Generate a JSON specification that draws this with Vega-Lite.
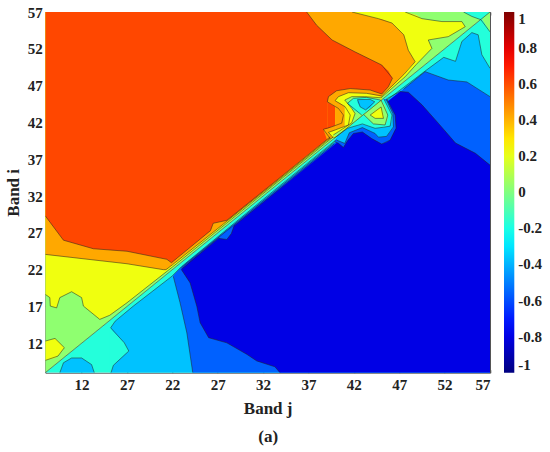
{"$schema":"https://vega.github.io/schema/vega-lite/v6.json","width":444.7,"height":360.7,"autosize":{"type":"none"},"padding":{"left":45.3,"top":12,"right":60,"bottom":79.3},"background":"white",
"config":{"view":{"stroke":null}},
"layer":[
{"data":{"values":[
{"id":"l1","v":-0.18,"x":8,"lo":8,"hi":8},{"id":"l1","v":-0.18,"x":57,"lo":8,"hi":57},
{"id":"l2","v":-0.37,"x":9.6,"lo":8,"hi":8},{"id":"l2","v":-0.37,"x":10,"lo":8,"hi":9.35},{"id":"l2","v":-0.37,"x":10.9,"lo":8,"hi":10},{"id":"l2","v":-0.37,"x":12,"lo":8,"hi":10},{"id":"l2","v":-0.37,"x":13.1,"lo":8,"hi":9.1},{"id":"l2","v":-0.37,"x":13.4,"lo":8,"hi":8},
{"id":"l3","v":-0.37,"x":15.2,"lo":8,"hi":14.1},{"id":"l3","v":-0.37,"x":15.7,"lo":8,"hi":15},{"id":"l3","v":-0.37,"x":17.7,"lo":8,"hi":17.05},{"id":"l3","v":-0.37,"x":21.95,"lo":8,"hi":21.1},{"id":"l3","v":-0.37,"x":23,"lo":8,"hi":22.4},{"id":"l3","v":-0.37,"x":33,"lo":8,"hi":32.55},{"id":"l3","v":-0.37,"x":45,"lo":8,"hi":44.4},{"id":"l3","v":-0.37,"x":49.85,"lo":8,"hi":48.98},{"id":"l3","v":-0.37,"x":51.9,"lo":8,"hi":50.84},{"id":"l3","v":-0.37,"x":53.2,"lo":8,"hi":50.3},{"id":"l3","v":-0.37,"x":53.9,"lo":8,"hi":53},{"id":"l3","v":-0.37,"x":55,"lo":8,"hi":54.2},{"id":"l3","v":-0.37,"x":55.7,"lo":8,"hi":53.9},{"id":"l3","v":-0.37,"x":56.1,"lo":8,"hi":51.2},{"id":"l3","v":-0.37,"x":57,"lo":8,"hi":49.35},
{"id":"l4","v":-0.18,"x":15.1,"lo":8,"hi":14.2},{"id":"l4","v":-0.18,"x":15.24,"lo":8,"hi":14},{"id":"l4","v":-0.18,"x":15.5,"lo":9,"hi":13.6},{"id":"l4","v":-0.18,"x":16.7,"lo":10.4,"hi":12.07},{"id":"l4","v":-0.18,"x":17.2,"lo":10.94,"hi":10.94},
{"id":"l5","v":-0.56,"x":22.1,"lo":21.1,"hi":21.2},{"id":"l5","v":-0.56,"x":22.85,"lo":17.5,"hi":22.2},{"id":"l5","v":-0.56,"x":23.6,"lo":13.4,"hi":23},{"id":"l5","v":-0.56,"x":24.25,"lo":8,"hi":23.65},{"id":"l5","v":-0.56,"x":33,"lo":8,"hi":32.35},{"id":"l5","v":-0.56,"x":45,"lo":8,"hi":44.3},{"id":"l5","v":-0.56,"x":47.46,"lo":8,"hi":46.5},{"id":"l5","v":-0.56,"x":49.85,"lo":8,"hi":48.9},{"id":"l5","v":-0.56,"x":52.4,"lo":8,"hi":47.76},{"id":"l5","v":-0.56,"x":54.45,"lo":8,"hi":47.5},{"id":"l5","v":-0.56,"x":57,"lo":8,"hi":45.5},
{"id":"l6","v":-0.8,"x":23,"lo":22,"hi":22.05},{"id":"l6","v":-0.8,"x":23.96,"lo":20.2,"hi":23.1},{"id":"l6","v":-0.8,"x":24.7,"lo":17,"hi":23.85},{"id":"l6","v":-0.8,"x":25.06,"lo":14.8,"hi":24.2},{"id":"l6","v":-0.8,"x":26,"lo":12.75,"hi":25.15},{"id":"l6","v":-0.8,"x":28,"lo":12.06,"hi":27.15},{"id":"l6","v":-0.8,"x":30.2,"lo":10.5,"hi":29.35},{"id":"l6","v":-0.8,"x":31.3,"lo":9.6,"hi":30.45},{"id":"l6","v":-0.8,"x":33.3,"lo":8.8,"hi":32.45},{"id":"l6","v":-0.8,"x":33.86,"lo":8,"hi":33},{"id":"l6","v":-0.8,"x":47.1,"lo":8,"hi":46.2},{"id":"l6","v":-0.8,"x":48,"lo":8,"hi":46.1},{"id":"l6","v":-0.8,"x":49.5,"lo":8,"hi":44.4},{"id":"l6","v":-0.8,"x":51.3,"lo":8,"hi":41.9},{"id":"l6","v":-0.8,"x":53.2,"lo":8,"hi":39.2},{"id":"l6","v":-0.8,"x":55.4,"lo":8,"hi":37.8},{"id":"l6","v":-0.8,"x":57,"lo":8,"hi":36.2},
{"id":"l7","v":-0.56,"x":27.07,"lo":26.25,"hi":26.25},{"id":"l7","v":-0.56,"x":28,"lo":26.1,"hi":27.2},{"id":"l7","v":-0.56,"x":28.5,"lo":26.9,"hi":27.7},{"id":"l7","v":-0.56,"x":28.8,"lo":27.95,"hi":27.95},
{"id":"u1","v":0.03,"x":8,"lo":8,"hi":57},{"id":"u1","v":0.03,"x":57,"lo":57,"hi":57},
{"id":"u1b","v":0.22,"x":8,"lo":9.67,"hi":12.3},{"id":"u1b","v":0.22,"x":9.07,"lo":10,"hi":12.66},{"id":"u1b","v":0.22,"x":9.4,"lo":10.26,"hi":12.3},{"id":"u1b","v":0.22,"x":10.1,"lo":11.4,"hi":11.4},
{"id":"u2","v":0.22,"x":8,"lo":18.64,"hi":57},{"id":"u2","v":0.22,"x":8.5,"lo":18.2,"hi":57},{"id":"u2","v":0.22,"x":8.55,"lo":17.05,"hi":57},{"id":"u2","v":0.22,"x":9.25,"lo":16.8,"hi":57},{"id":"u2","v":0.22,"x":9.6,"lo":18.2,"hi":57},{"id":"u2","v":0.22,"x":10.9,"lo":19,"hi":57},{"id":"u2","v":0.22,"x":12,"lo":18.2,"hi":57},{"id":"u2","v":0.22,"x":12.2,"lo":17.05,"hi":57},{"id":"u2","v":0.22,"x":14,"lo":15.24,"hi":57},{"id":"u2","v":0.22,"x":15.1,"lo":15.8,"hi":57},{"id":"u2","v":0.22,"x":17,"lo":17.5,"hi":57},{"id":"u2","v":0.22,"x":22,"lo":22.35,"hi":57},{"id":"u2","v":0.22,"x":45,"lo":45.35,"hi":57},{"id":"u2","v":0.22,"x":47.65,"lo":48.2,"hi":57},{"id":"u2","v":0.22,"x":48.9,"lo":49.9,"hi":56.6},{"id":"u2","v":0.22,"x":49.5,"lo":50.7,"hi":56.1},{"id":"u2","v":0.22,"x":50.2,"lo":51.57,"hi":55.9},{"id":"u2","v":0.22,"x":50.6,"lo":52.06,"hi":55.8},
{"id":"u3","v":0.22,"x":50.2,"lo":53.2,"hi":55.9},{"id":"u3","v":0.22,"x":51.7,"lo":53.5,"hi":55.7},{"id":"u3","v":0.22,"x":52.4,"lo":53.65,"hi":55.7},{"id":"u3","v":0.22,"x":53.9,"lo":54.73,"hi":55.7},{"id":"u3","v":0.22,"x":54.27,"lo":55,"hi":55},
{"id":"u3b","v":0.03,"x":50.2,"lo":53.2,"hi":53.2},{"id":"u3b","v":0.03,"x":50.6,"lo":52.06,"hi":53.28},
{"id":"u4","v":0.42,"x":8,"lo":24.07,"hi":57},{"id":"u4","v":0.42,"x":17,"lo":22.8,"hi":57},{"id":"u4","v":0.42,"x":21,"lo":22,"hi":57},{"id":"u4","v":0.42,"x":21.3,"lo":22,"hi":57},{"id":"u4","v":0.42,"x":22,"lo":22.65,"hi":57},{"id":"u4","v":0.42,"x":33,"lo":33.5,"hi":57},{"id":"u4","v":0.42,"x":41.8,"lo":42.35,"hi":57},{"id":"u4","v":0.42,"x":44.7,"lo":45.25,"hi":56.1},{"id":"u4","v":0.42,"x":45.07,"lo":45.6,"hi":56},{"id":"u4","v":0.42,"x":46.2,"lo":46.9,"hi":55.5},{"id":"u4","v":0.42,"x":47.5,"lo":48.5,"hi":53.9},{"id":"u4","v":0.42,"x":48,"lo":49.3,"hi":51.8},{"id":"u4","v":0.42,"x":48.75,"lo":50.25,"hi":50.25},
{"id":"u5","v":0.61,"x":8,"lo":29.3,"hi":57},{"id":"u5","v":0.61,"x":10,"lo":26,"hi":57},{"id":"u5","v":0.61,"x":13.3,"lo":24.84,"hi":57},{"id":"u5","v":0.61,"x":17,"lo":24.5,"hi":57},{"id":"u5","v":0.61,"x":21.4,"lo":23.4,"hi":57},{"id":"u5","v":0.61,"x":21.9,"lo":22.94,"hi":57},{"id":"u5","v":0.61,"x":26.2,"lo":27.3,"hi":57},{"id":"u5","v":0.61,"x":26.5,"lo":28.3,"hi":57},{"id":"u5","v":0.61,"x":27.25,"lo":28.5,"hi":57},{"id":"u5","v":0.61,"x":28,"lo":28.7,"hi":57},{"id":"u5","v":0.61,"x":33.15,"lo":33.8,"hi":57},{"id":"u5","v":0.61,"x":36.8,"lo":37.5,"hi":57},{"id":"u5","v":0.61,"x":37.9,"lo":38.6,"hi":55.2},{"id":"u5","v":0.61,"x":39.6,"lo":40.25,"hi":53.2},{"id":"u5","v":0.61,"x":42.1,"lo":42.8,"hi":51.6},{"id":"u5","v":0.61,"x":45.07,"lo":45.86,"hi":49.8},{"id":"u5","v":0.61,"x":45.8,"lo":46.85,"hi":49},{"id":"u5","v":0.61,"x":46.25,"lo":48,"hi":48},
{"id":"u6","v":-0.18,"x":54.08,"lo":57,"hi":57},{"id":"u6","v":-0.18,"x":55,"lo":56.4,"hi":57},{"id":"u6","v":-0.18,"x":56,"lo":55.95,"hi":57},{"id":"u6","v":-0.18,"x":57,"lo":57,"hi":57},
{"id":"l8","v":0.03,"x":56.1,"lo":56.05,"hi":56.05},{"id":"l8","v":0.03,"x":57,"lo":54.3,"hi":57},
{"id":"i0","v":-0.56,"x":39.85,"lo":39.4,"hi":39.4},{"id":"i0","v":-0.56,"x":40.3,"lo":39.16,"hi":40.2},{"id":"i0","v":-0.56,"x":40.85,"lo":38.6,"hi":40.7},{"id":"i0","v":-0.56,"x":41.3,"lo":39.5,"hi":41.2},{"id":"i0","v":-0.56,"x":41.95,"lo":40.5,"hi":41.9},{"id":"i0","v":-0.56,"x":42.94,"lo":40.7,"hi":42.9},{"id":"i0","v":-0.56,"x":43.97,"lo":39.8,"hi":43.97},{"id":"i0","v":-0.56,"x":45.07,"lo":39.06,"hi":45},{"id":"i0","v":-0.56,"x":45.6,"lo":39.3,"hi":45.2},{"id":"i0","v":-0.56,"x":46,"lo":39.6,"hi":44.3},{"id":"i0","v":-0.56,"x":46.55,"lo":41,"hi":43},{"id":"i0","v":-0.56,"x":46.65,"lo":41.2,"hi":41.2},
{"id":"i1","v":-0.37,"x":40.1,"lo":39.6,"hi":40.1},{"id":"i1","v":-0.37,"x":41,"lo":39.15,"hi":41},{"id":"i1","v":-0.37,"x":41.5,"lo":40.6,"hi":41.5},{"id":"i1","v":-0.37,"x":42.94,"lo":41.3,"hi":42.94},{"id":"i1","v":-0.37,"x":44.34,"lo":40.5,"hi":44.34},{"id":"i1","v":-0.37,"x":44.7,"lo":40,"hi":44.7},{"id":"i1","v":-0.37,"x":45.6,"lo":40.1,"hi":45},{"id":"i1","v":-0.37,"x":46.3,"lo":41.2,"hi":43.2},{"id":"i1","v":-0.37,"x":46.36,"lo":41.4,"hi":41.4},
{"id":"i2","v":-0.18,"x":39.8,"lo":39.8,"hi":39.9},{"id":"i2","v":-0.18,"x":41.3,"lo":41.2,"hi":41.4},{"id":"i2","v":-0.18,"x":42.94,"lo":41.8,"hi":42.94},{"id":"i2","v":-0.18,"x":44.34,"lo":41.2,"hi":44.34},{"id":"i2","v":-0.18,"x":45.3,"lo":41.35,"hi":45.2},{"id":"i2","v":-0.18,"x":46,"lo":41.5,"hi":43.6},{"id":"i2","v":-0.18,"x":46.2,"lo":42.5,"hi":43},
{"id":"i3","v":0.03,"x":43.1,"lo":43,"hi":43.1},{"id":"i3","v":0.03,"x":44.15,"lo":41.8,"hi":44.2},{"id":"i3","v":0.03,"x":45,"lo":41.7,"hi":45},{"id":"i3","v":0.03,"x":45.44,"lo":41.65,"hi":44.3},{"id":"i3","v":0.03,"x":45.74,"lo":42.5,"hi":43},
{"id":"i4","v":0.22,"x":43.8,"lo":43,"hi":43},{"id":"i4","v":0.22,"x":44.34,"lo":42.55,"hi":43.6},{"id":"i4","v":0.22,"x":45,"lo":42.55,"hi":44.1},{"id":"i4","v":0.22,"x":45.26,"lo":42.55,"hi":43},
{"id":"j1","v":0.42,"x":38.64,"lo":41.06,"hi":41.06},{"id":"j1","v":0.42,"x":39.08,"lo":39.5,"hi":41.14},{"id":"j1","v":0.42,"x":39.09,"lo":39.5,"hi":44.8},{"id":"j1","v":0.42,"x":39.2,"lo":39.6,"hi":45.5},{"id":"j1","v":0.42,"x":40.1,"lo":40.2,"hi":46.3},{"id":"j1","v":0.42,"x":41.6,"lo":41.6,"hi":46.6},{"id":"j1","v":0.42,"x":43.8,"lo":43.8,"hi":46.4},{"id":"j1","v":0.42,"x":45.07,"lo":45,"hi":45.86},
{"id":"j2","v":0.61,"x":39.08,"lo":41.14,"hi":44.8},{"id":"j2","v":0.61,"x":39.56,"lo":41.4,"hi":44.4},{"id":"j2","v":0.61,"x":40.3,"lo":41.75,"hi":43.9},{"id":"j2","v":0.61,"x":40.66,"lo":41.9,"hi":43.3},{"id":"j2","v":0.61,"x":40.85,"lo":43,"hi":43},
{"id":"j3","v":0.22,"x":39.2,"lo":40.65,"hi":40.65},{"id":"j3","v":0.22,"x":39.74,"lo":39.9,"hi":40.85},{"id":"j3","v":0.22,"x":39.93,"lo":40,"hi":40.97},{"id":"j3","v":0.22,"x":39.94,"lo":40,"hi":44.95},{"id":"j3","v":0.22,"x":40.3,"lo":40.3,"hi":45.5},{"id":"j3","v":0.22,"x":41.4,"lo":41.4,"hi":46.04},{"id":"j3","v":0.22,"x":43.4,"lo":43.4,"hi":45.95},{"id":"j3","v":0.22,"x":45.07,"lo":45,"hi":45.5},
{"id":"j4","v":0.42,"x":39.93,"lo":40.97,"hi":44.95},{"id":"j4","v":0.42,"x":40.5,"lo":41.25,"hi":44.6},{"id":"j4","v":0.42,"x":41.03,"lo":41.5,"hi":44.14},{"id":"j4","v":0.42,"x":41.4,"lo":41.65,"hi":43.5},{"id":"j4","v":0.42,"x":41.6,"lo":43,"hi":43},
{"id":"j5","v":0.03,"x":39.74,"lo":40.1,"hi":40.3},{"id":"j5","v":0.03,"x":40.3,"lo":40.3,"hi":40.74},{"id":"j5","v":0.03,"x":41,"lo":41,"hi":41.05},{"id":"j5","v":0.03,"x":41.01,"lo":41,"hi":45.04},{"id":"j5","v":0.03,"x":41.77,"lo":41.77,"hi":45.5},{"id":"j5","v":0.03,"x":43.2,"lo":43.2,"hi":45.5},{"id":"j5","v":0.03,"x":44.9,"lo":44.9,"hi":45.27},
{"id":"j6","v":0.22,"x":41,"lo":41.05,"hi":45.04},{"id":"j6","v":0.22,"x":41.5,"lo":41.4,"hi":44.3},{"id":"j6","v":0.22,"x":41.77,"lo":41.95,"hi":43.9},{"id":"j6","v":0.22,"x":42.13,"lo":43.2,"hi":43.2},
{"id":"j7","v":-0.18,"x":41.3,"lo":44.6,"hi":44.6},{"id":"j7","v":-0.18,"x":41.95,"lo":43.7,"hi":45.27},{"id":"j7","v":-0.18,"x":42.87,"lo":43,"hi":45.4},{"id":"j7","v":-0.18,"x":43.4,"lo":43.4,"hi":45.4},{"id":"j7","v":-0.18,"x":44.7,"lo":44.7,"hi":45.1},{"id":"j7","v":-0.18,"x":45,"lo":45,"hi":45},
{"id":"j8","v":-0.37,"x":42.4,"lo":44.7,"hi":45.1},{"id":"j8","v":-0.37,"x":42.7,"lo":44.1,"hi":45.1},{"id":"j8","v":-0.37,"x":43.3,"lo":43.7,"hi":45.13},{"id":"j8","v":-0.37,"x":43.8,"lo":44,"hi":45.13},{"id":"j8","v":-0.37,"x":44.3,"lo":44.8,"hi":44.8}
]},
"mark":{"type":"area","interpolate":"linear","clip":true},
"encoding":{
"x":{"field":"x","type":"quantitative","scale":{"domain":[8,57],"nice":false},"title":["Band j","(a)"],"axis":{"values":[12,17,22,27,32,37,42,47,52,57],"labelExpr":"datum.value==17?'27':''+datum.value","grid":false,"domainColor":"#555","tickColor":"#555","tickSize":-3,"labelFont":"Liberation Serif","labelFontSize":15,"labelFontWeight":"bold","labelColor":"#222","labelPadding":8,"titleFont":"Liberation Serif","titleFontSize":17,"titleFontWeight":"bold","titleColor":"#222","titleY":28,"titleLineHeight":28}},
"y":{"field":"hi","type":"quantitative","scale":{"domain":[8,57],"nice":false},"title":"Band i","axis":{"values":[12,17,22,27,32,37,42,47,52,57],"grid":false,"domainColor":"#555","tickColor":"#555","tickSize":-3,"labelFont":"Liberation Serif","labelFontSize":15,"labelFontWeight":"bold","labelColor":"#222","labelPadding":6,"titleFont":"Liberation Serif","titleFontSize":17,"titleFontWeight":"bold","titleColor":"#222","titleX":-23}},
"y2":{"field":"lo"},
"detail":{"field":"id"},
"color":{"field":"v","type":"quantitative","scale":{"domain":[-1,-0.75,-0.25,0.25,0.75,1],"range":["#00007f","#0000ff","#00ffff","#ffff00","#ff0000","#7f0000"],"interpolate":"rgb"},
"legend":{"title":null,"orient":"none","legendX":458.7,"legendY":0,"type":"gradient","gradientLength":360.7,"gradientThickness":10.3,"values":[-1,-0.8,-0.6,-0.4,-0.2,0,0.2,0.4,0.6,0.8,1],"labelExpr":"''+datum.value","labelOverlap":false,"labelFont":"Liberation Serif","labelFontSize":15,"labelFontWeight":"bold","labelColor":"#222","labelOffset":4}}
}},
{"data":{"values":[
{"c":"a","o":1,"x":8,"y":29.3},{"c":"a","o":2,"x":10,"y":26},{"c":"a","o":3,"x":13.3,"y":24.84},{"c":"a","o":4,"x":17,"y":24.5},{"c":"a","o":5,"x":21.4,"y":23.4},{"c":"a","o":6,"x":21.9,"y":22.94},{"c":"a","o":7,"x":26.2,"y":27.3},{"c":"a","o":8,"x":26.5,"y":28.3},{"c":"a","o":9,"x":27.25,"y":28.5},{"c":"a","o":10,"x":28,"y":28.7},{"c":"a","o":11,"x":33.15,"y":33.8},{"c":"a","o":12,"x":39.4,"y":40.05},
{"c":"b","o":1,"x":36.8,"y":57},{"c":"b","o":2,"x":37.9,"y":55.2},{"c":"b","o":3,"x":39.6,"y":53.2},{"c":"b","o":4,"x":42.1,"y":51.6},{"c":"b","o":5,"x":45.07,"y":49.8},{"c":"b","o":6,"x":46.25,"y":48},{"c":"b","o":7,"x":45.8,"y":46.85},{"c":"b","o":8,"x":45.07,"y":45.86},{"c":"b","o":9,"x":43.8,"y":46.4},{"c":"b","o":10,"x":41.6,"y":46.6},{"c":"b","o":11,"x":40.1,"y":46.3},{"c":"b","o":12,"x":39.2,"y":45.5},{"c":"b","o":13,"x":39.08,"y":44.8},{"c":"b","o":14,"x":40.3,"y":43.9},{"c":"b","o":15,"x":40.85,"y":43},{"c":"b","o":16,"x":40.66,"y":41.9},{"c":"b","o":17,"x":39.56,"y":41.4},{"c":"b","o":18,"x":38.64,"y":41.06},{"c":"b","o":19,"x":39.4,"y":39.8},
{"c":"c","o":1,"x":8,"y":24.07},{"c":"c","o":2,"x":17,"y":22.8},{"c":"c","o":3,"x":21,"y":22},{"c":"c","o":4,"x":21.3,"y":22},{"c":"c","o":5,"x":22,"y":22.65},{"c":"c","o":6,"x":33,"y":33.5},{"c":"c","o":7,"x":39.4,"y":39.9},
{"c":"d","o":1,"x":41.8,"y":57},{"c":"d","o":2,"x":44.7,"y":56.1},{"c":"d","o":3,"x":46.2,"y":55.5},{"c":"d","o":4,"x":47.5,"y":53.9},{"c":"d","o":5,"x":48,"y":51.8},{"c":"d","o":6,"x":48.75,"y":50.25},{"c":"d","o":7,"x":47.5,"y":48.5},{"c":"d","o":8,"x":45.07,"y":45.6},{"c":"d","o":9,"x":43.4,"y":45.95},{"c":"d","o":10,"x":41.4,"y":46.04},{"c":"d","o":11,"x":40.3,"y":45.5},{"c":"d","o":12,"x":39.93,"y":44.95},{"c":"d","o":13,"x":41.03,"y":44.14},{"c":"d","o":14,"x":41.6,"y":43},{"c":"d","o":15,"x":41.4,"y":41.65},{"c":"d","o":16,"x":39.93,"y":40.97},{"c":"d","o":17,"x":39.2,"y":40.65},{"c":"d","o":18,"x":39.74,"y":39.9},
{"c":"e","o":1,"x":8,"y":18.64},{"c":"e","o":2,"x":8.5,"y":18.2},{"c":"e","o":3,"x":8.55,"y":17.05},{"c":"e","o":4,"x":9.25,"y":16.8},{"c":"e","o":5,"x":9.6,"y":18.2},{"c":"e","o":6,"x":10.9,"y":19},{"c":"e","o":7,"x":12,"y":18.2},{"c":"e","o":8,"x":12.2,"y":17.05},{"c":"e","o":9,"x":14,"y":15.24},{"c":"e","o":10,"x":15.1,"y":15.8},{"c":"e","o":11,"x":17,"y":17.5},{"c":"e","o":12,"x":22,"y":22.35},{"c":"e","o":13,"x":39.74,"y":40.05},
{"c":"f","o":1,"x":47.65,"y":57},{"c":"f","o":2,"x":49.5,"y":56.1},{"c":"f","o":3,"x":51.7,"y":55.7},{"c":"f","o":4,"x":53.9,"y":55.7},{"c":"f","o":5,"x":54.27,"y":55},{"c":"f","o":6,"x":52.4,"y":53.65},{"c":"f","o":7,"x":50.2,"y":53.2},{"c":"f","o":8,"x":50.6,"y":52.06},{"c":"f","o":9,"x":48.9,"y":49.9},{"c":"f","o":10,"x":47.65,"y":48.2},{"c":"f","o":11,"x":45,"y":45.35},{"c":"f","o":12,"x":43.2,"y":45.5},{"c":"f","o":13,"x":41.77,"y":45.5},{"c":"f","o":14,"x":41,"y":45.04},{"c":"f","o":15,"x":41.77,"y":43.9},{"c":"f","o":16,"x":42.13,"y":43.2},{"c":"f","o":17,"x":41.77,"y":41.95},{"c":"f","o":18,"x":40.3,"y":40.74},{"c":"f","o":19,"x":39.74,"y":40.3},
{"c":"g","o":1,"x":8,"y":12.3},{"c":"g","o":2,"x":9.07,"y":12.66},{"c":"g","o":3,"x":10.1,"y":11.4},{"c":"g","o":4,"x":9.4,"y":10.26},{"c":"g","o":5,"x":8,"y":9.67},
{"c":"h","o":1,"x":8,"y":8},{"c":"h","o":2,"x":57,"y":57},
{"c":"h2","o":1,"x":42.87,"y":43},{"c":"h2","o":2,"x":41.3,"y":44.6},{"c":"h2","o":3,"x":41.95,"y":45.27},{"c":"h2","o":4,"x":43.4,"y":45.4},{"c":"h2","o":5,"x":44.7,"y":45.1},{"c":"h2","o":6,"x":45,"y":45},
{"c":"h3","o":1,"x":42.4,"y":45.1},{"c":"h3","o":2,"x":42.7,"y":44.1},{"c":"h3","o":3,"x":43.3,"y":43.7},{"c":"h3","o":4,"x":44.3,"y":44.8},{"c":"h3","o":5,"x":43.8,"y":45.13},{"c":"h3","o":6,"x":42.4,"y":45.1},
{"c":"i","o":1,"x":9.6,"y":8},{"c":"i","o":2,"x":10,"y":9.35},{"c":"i","o":3,"x":10.9,"y":10},{"c":"i","o":4,"x":12,"y":10},{"c":"i","o":5,"x":13.1,"y":9.1},{"c":"i","o":6,"x":13.4,"y":8},
{"c":"j","o":1,"x":15.24,"y":8},{"c":"j","o":2,"x":15.5,"y":9},{"c":"j","o":3,"x":17.2,"y":10.94},{"c":"j","o":4,"x":16.7,"y":12.07},{"c":"j","o":5,"x":15.2,"y":14.1},{"c":"j","o":6,"x":15.7,"y":15},{"c":"j","o":7,"x":17.7,"y":17.05},{"c":"j","o":8,"x":21.95,"y":21.1},{"c":"j","o":9,"x":23,"y":22.4},{"c":"j","o":10,"x":33,"y":32.55},{"c":"j","o":11,"x":40,"y":39.6},
{"c":"k","o":1,"x":22.1,"y":21.1},{"c":"k","o":2,"x":22.85,"y":17.5},{"c":"k","o":3,"x":23.6,"y":13.4},{"c":"k","o":4,"x":24.25,"y":8},
{"c":"l","o":1,"x":23,"y":22},{"c":"l","o":2,"x":23.96,"y":20.2},{"c":"l","o":3,"x":24.7,"y":17},{"c":"l","o":4,"x":25.06,"y":14.8},{"c":"l","o":5,"x":26,"y":12.75},{"c":"l","o":6,"x":28,"y":12.06},{"c":"l","o":7,"x":30.2,"y":10.5},{"c":"l","o":8,"x":31.3,"y":9.6},{"c":"l","o":9,"x":33.3,"y":8.8},{"c":"l","o":10,"x":33.86,"y":8},
{"c":"m","o":1,"x":23,"y":22.25},{"c":"m","o":2,"x":33,"y":32.35},{"c":"m","o":3,"x":39.85,"y":39.3},
{"c":"m2","o":1,"x":23,"y":22.05},{"c":"m2","o":2,"x":27.07,"y":26.25},{"c":"m2","o":3,"x":28,"y":26.1},{"c":"m2","o":4,"x":28.5,"y":26.9},{"c":"m2","o":5,"x":28.8,"y":27.95},{"c":"m2","o":6,"x":33.3,"y":32.45},{"c":"m2","o":7,"x":39.85,"y":39.1},
{"c":"n","o":1,"x":45.6,"y":45},{"c":"n","o":2,"x":49.85,"y":48.98},{"c":"n","o":3,"x":51.9,"y":50.84},{"c":"n","o":4,"x":53.2,"y":50.3},{"c":"n","o":5,"x":53.9,"y":53},{"c":"n","o":6,"x":55,"y":54.2},{"c":"n","o":7,"x":55.7,"y":53.9},{"c":"n","o":8,"x":56.1,"y":51.2},{"c":"n","o":9,"x":57,"y":49.35},
{"c":"p","o":1,"x":47.46,"y":46.5},{"c":"p","o":2,"x":49.85,"y":48.9},{"c":"p","o":3,"x":52.4,"y":47.76},{"c":"p","o":4,"x":54.45,"y":47.5},{"c":"p","o":5,"x":57,"y":45.5},
{"c":"q","o":1,"x":45.6,"y":45.2},{"c":"q","o":2,"x":47.1,"y":46.2},{"c":"q","o":3,"x":48,"y":46.1},{"c":"q","o":4,"x":49.5,"y":44.4},{"c":"q","o":5,"x":51.3,"y":41.9},{"c":"q","o":6,"x":53.2,"y":39.2},{"c":"q","o":7,"x":55.4,"y":37.8},{"c":"q","o":8,"x":57,"y":36.2},
{"c":"r","o":1,"x":39.85,"y":39.4},{"c":"r","o":2,"x":40.3,"y":39.16},{"c":"r","o":3,"x":40.85,"y":38.6},{"c":"r","o":4,"x":41.3,"y":39.5},{"c":"r","o":5,"x":41.95,"y":40.5},{"c":"r","o":6,"x":42.94,"y":40.7},{"c":"r","o":7,"x":43.97,"y":39.8},{"c":"r","o":8,"x":45.07,"y":39.06},{"c":"r","o":9,"x":46,"y":39.6},{"c":"r","o":10,"x":46.65,"y":41.2},{"c":"r","o":11,"x":46.55,"y":43},{"c":"r","o":12,"x":45.6,"y":45.2},
{"c":"s","o":1,"x":40.1,"y":39.6},{"c":"s","o":2,"x":41,"y":39.15},{"c":"s","o":3,"x":41.5,"y":40.6},{"c":"s","o":4,"x":42.94,"y":41.3},{"c":"s","o":5,"x":44.34,"y":40.5},{"c":"s","o":6,"x":44.7,"y":40},{"c":"s","o":7,"x":45.6,"y":40.1},{"c":"s","o":8,"x":46.36,"y":41.4},{"c":"s","o":9,"x":46.3,"y":43.2},{"c":"s","o":10,"x":45.6,"y":45},
{"c":"t","o":1,"x":39.8,"y":39.85},{"c":"t","o":2,"x":41.3,"y":41.2},{"c":"t","o":3,"x":42.94,"y":41.8},{"c":"t","o":4,"x":44.34,"y":41.2},{"c":"t","o":5,"x":45.3,"y":41.35},{"c":"t","o":6,"x":46,"y":41.5},{"c":"t","o":7,"x":46.2,"y":43},{"c":"t","o":8,"x":45.3,"y":45.2},
{"c":"u","o":1,"x":43.1,"y":43.05},{"c":"u","o":2,"x":44.15,"y":41.8},{"c":"u","o":3,"x":45.44,"y":41.65},{"c":"u","o":4,"x":45.74,"y":43},{"c":"u","o":5,"x":45,"y":45},
{"c":"w","o":1,"x":43.8,"y":43},{"c":"w","o":2,"x":44.34,"y":42.55},{"c":"w","o":3,"x":45.26,"y":42.55},{"c":"w","o":4,"x":45,"y":44.1},{"c":"w","o":5,"x":43.8,"y":43},
{"c":"z","o":1,"x":54.08,"y":57},{"c":"z","o":2,"x":55,"y":56.4},{"c":"z","o":3,"x":56,"y":55.95},{"c":"z","o":4,"x":57,"y":54.3}
]},
"mark":{"type":"line","stroke":"#222","strokeWidth":0.7,"opacity":0.75,"clip":true},
"encoding":{
"x":{"field":"x","type":"quantitative","scale":{"domain":[8,57],"nice":false},"axis":{"orient":"top","values":[12,17,22,27,32,37,42,47,52,57],"labels":false,"title":null,"grid":false,"domainColor":"#555","tickColor":"#555","tickSize":-3}},
"y":{"field":"y","type":"quantitative","scale":{"domain":[8,57],"nice":false},"axis":{"orient":"right","values":[12,17,22,27,32,37,42,47,52,57],"labels":false,"title":null,"grid":false,"domainColor":"#555","tickColor":"#555","tickSize":-3}},
"detail":{"field":"c"},
"order":{"field":"o","type":"quantitative"}
}}
],
"resolve":{"axis":{"x":"independent","y":"independent"}}}
